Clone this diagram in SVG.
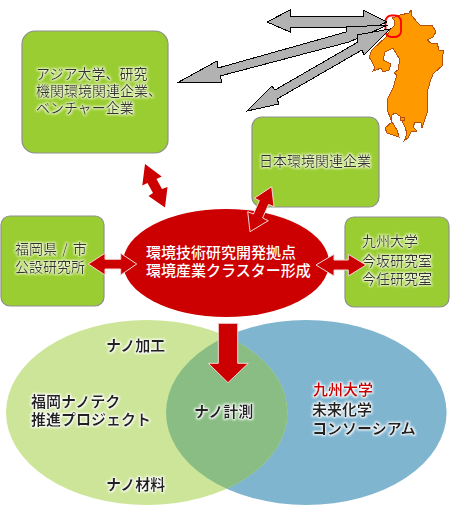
<svg xmlns="http://www.w3.org/2000/svg" width="450" height="515" viewBox="0 0 450 515">
<style>
text{font-family:"Noto Sans CJK JP","Noto Sans",sans-serif}
.box{fill:#9acd32;stroke:#8f8f8f;stroke-width:1.2}
.t{font-size:14px;fill:#333;filter:url(#gl)}
.v{font-size:15px;font-weight:700;fill:#222;filter:url(#gw)}
.c{font-size:15px;font-weight:500;fill:#fff}
.g{fill:#b2b2b2;stroke:#000;stroke-width:1;shape-rendering:crispEdges}
.r{fill:#cc0000;stroke:#f4d8d8;stroke-width:1}
</style>
<defs>
<filter id="gl" x="-15%" y="-30%" width="130%" height="160%"><feMorphology in="SourceAlpha" operator="dilate" radius="1.2" result="d"/><feGaussianBlur in="d" stdDeviation="0.9" result="b"/><feFlood flood-color="#eaf5c8"/><feComposite in2="b" operator="in" result="h"/><feMerge><feMergeNode in="h"/><feMergeNode in="SourceGraphic"/></feMerge></filter>
<filter id="gw" x="-15%" y="-30%" width="130%" height="160%"><feMorphology in="SourceAlpha" operator="dilate" radius="1" result="d"/><feGaussianBlur in="d" stdDeviation="0.8" result="b"/><feFlood flood-color="#ffffff"/><feComposite in2="b" operator="in" result="h"/><feMerge><feMergeNode in="h"/><feMergeNode in="SourceGraphic"/></feMerge></filter>
<clipPath id="bc"><ellipse cx="306.3" cy="412.5" rx="140.3" ry="92.5"/></clipPath>
</defs>
<g id="venn-right"><ellipse cx="306.3" cy="412.5" rx="140.3" ry="92.5" fill="#80b5d0"/></g>
<g id="venn-left"><ellipse cx="146.7" cy="412.5" rx="140.7" ry="92.5" fill="#cde598"/></g>
<g id="venn-overlap"><ellipse cx="146.7" cy="412.5" rx="140.7" ry="92.5" fill="#89bd84" clip-path="url(#bc)"/></g>
<g id="map" shape-rendering="crispEdges">
<path fill="#ff9900" stroke="#b5500f" stroke-width="1" d="M392 18L400 15L409 13L411 10L412 16L417 22L420 25L432 25L436 32L433 37L427 40L431 43L437 43L439 50L444 51L442 58L443 65L433 74L430 82L427 93L427 113L422 128L421 123L415 122L413 127L417 131L411 132L408 138L404 141L407 134L405 127L400 116L395 113L391 116L392 122L397 130L399 137L387 133L385 128L392 122L388 112L387 100L393 88L397 75L394 73L398 70L398 68L400 60L393 48L385 52L383 60L391 64L389 70L383 72L381 68L376 70L373 71L375 68L371 60L369 57L372 50L386 37L390 30L394 26L394 20Z"/>
<rect x="400" y="117" width="4" height="3" fill="#ff9900" stroke="#b5500f" stroke-width="1"/>
<rect x="385.500" y="15.500" width="15.500" height="21.500" rx="6" fill="none" stroke="#ff0000" stroke-width="1.800" shape-rendering="auto"/>
</g>
<g id="box-asia"><rect class="box" x="22" y="31" width="146" height="122" rx="13"/>
<text class="t"><tspan x="36" y="79">アジア大学、研究</tspan><tspan x="36" y="96">機関環境関連企業、</tspan><tspan x="36" y="113">ベンチャー企業</tspan></text></g>
<g id="box-japan"><rect class="box" x="252" y="117" width="127" height="90" rx="10"/>
<text class="t" x="259" y="166">日本環境関連企業</text></g>
<g id="box-fukuoka"><rect class="box" x="1" y="216" width="103" height="90" rx="9"/>
<text class="t" word-spacing="2"><tspan x="15" y="254">福岡県 / 市</tspan><tspan x="15" y="272">公設研究所</tspan></text></g>
<g id="box-kyushu"><rect class="box" x="345" y="217" width="104" height="90" rx="9"/>
<text class="t"><tspan x="362" y="246">九州大学</tspan><tspan x="362" y="266">今坂研究室</tspan><tspan x="362" y="284">今任研究室</tspan></text></g>
<g id="center"><ellipse cx="226" cy="263" rx="103" ry="54" fill="#cc0000"/>
<text class="c"><tspan x="146" y="258">環境技術研究開発拠点</tspan><tspan x="146" y="276">環境産業クラスター形成</tspan></text></g>
<g id="labels">
<text class="v" x="106" y="351">ナノ加工</text>
<text class="v"><tspan x="31" y="407">福岡ナノテク</tspan><tspan x="31" y="425">推進プロジェクト</tspan></text>
<text class="v" x="194" y="417">ナノ計測</text>
<text class="v"><tspan x="313" y="395" fill="#cc0000">九州大学</tspan><tspan x="312" y="415">未来化学</tspan><tspan x="312" y="434">コンソーシアム</tspan></text>
<text class="v" x="106" y="490">ナノ材料</text>
</g>
<g id="connectors">
<polygon class="g" points="267,22 290,10 290,16 363,16 363,10 387,22 363,32 363,27 290,27 290,32"/>
<polygon class="g" points="177,83 217,61 218,68 346,32 346,27 388,25 349,42 220,76 222,82"/>
<polygon class="g" points="247,111 272,86 275,90 358,42 357,35 390,29 364,55 362,50 277,99 279,104"/>
<polygon class="r" points="145,164 161.700,176.500 156.500,179 162,189 167.500,187 165,207.500 148.500,196 153,193 147.500,183 142.300,185.400" style="stroke:none"/>
<polygon class="r" points="271.700,186.700 274,206.700 268.600,204.400 262.600,218 268.300,220.700 250,231.700 247.700,211.700 253.400,214 259.400,200.600 254.300,198.300"/>
<polygon class="r" points="88.300,264 105,253.300 105,259.300 120.700,259.300 120.700,253.300 136.700,264 120.700,275 120.700,269 105,269 105,275"/>
<polygon class="r" points="316,265 334,254.300 334,260 348.300,260 348.300,254.300 366,265 348.300,276 348.300,270 334,270 334,276"/>
<polygon class="r" points="218.300,323.300 237.700,323.300 237.700,363.300 248.300,363.300 228,382.700 208.300,363.300 218.300,363.300"/>
</g>
</svg>
